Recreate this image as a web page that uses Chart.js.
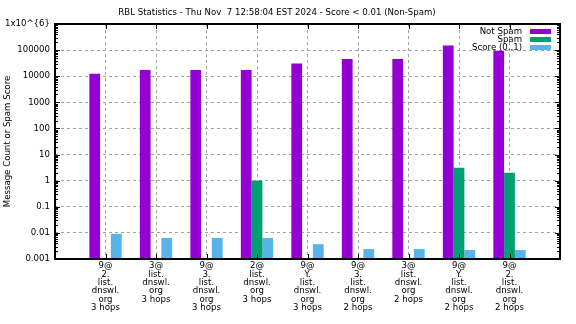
<!DOCTYPE html>
<html>
<head>
<meta charset="utf-8">
<script src="https://cdn.jsdelivr.net/npm/chart.js@4/dist/chart.umd.min.js"></script>
<style>
	html, body { margin:0; padding:0; background:#fff; }
	#wrap { width:576px; height:324px; }
</style>
</head>
<body>
<div id="wrap"><canvas id="chart" width="576" height="324"></canvas></div>
<script>

// data
var hosts = [
	['9@', '2.', 'list.', 'dnswl.', 'org', '3 hops'],
	['3@', 'list.', 'dnswl.', 'org', '3 hops'],
	['9@', '3.', 'list.', 'dnswl.', 'org', '3 hops'],
	['2@', 'list.', 'dnswl.', 'org', '3 hops'],
	['9@', 'Y.', 'list.', 'dnswl.', 'org', '3 hops'],
	['9@', '3.', 'list.', 'dnswl.', 'org', '2 hops'],
	['3@', 'list.', 'dnswl.', 'org', '2 hops'],
	['9@', 'Y.', 'list.', 'dnswl.', 'org', '2 hops'],
	['9@', '2.', 'list.', 'dnswl.', 'org', '2 hops']
];
var notSpam = [12300, 17500, 17500, 17500, 30500, 46000, 46000, 150000, 94000];
var spam = [null, null, null, 1, null, null, null, 3.1, 2.0];
var score = [0.0092, 0.0064, 0.0064, 0.0064, 0.0037, 0.0024, 0.0024, 0.0022, 0.0022];

var yTickValues = [0.001, 0.01, 0.1, 1, 10, 100, 1000, 10000, 100000, 1000000];
var yTickLabels = ['0.001', '0.01', '0.1', '1', '10', '100', '1000', '10000', '100000', '1x10^{6}'];

var seriesNames = ['Not Spam', 'Spam', 'Score (0..1)'];
var seriesColors = ['#9400d3', '#009e73', '#56b4e9'];

var titleText = 'RBL Statistics - Thu Nov  7 12:58:04 EST 2024 - Score < 0.01 (Non-Spam)';
var yTitleText = 'Message Count or Spam Score';

var FONT = '"DejaVu Sans"';
var FSIZE = 8.6;

// gnuplot puts an empty slot on each side of the xrange, pad with blanks
var pad = function(arr, v){
	return [v].concat(arr).concat([v]);
};

var labels = pad(hosts, '');

var decorations = {
	id: 'decorations',
	afterDraw: function(chart){
		var ctx = chart.ctx;
		var a = chart.chartArea;
		var y = chart.scales.y;
		var x = chart.scales.x;
		ctx.save();

		// title
		ctx.fillStyle = '#000';
		ctx.font = FSIZE + 'px ' + FONT;
		ctx.textAlign = 'center';
		ctx.textBaseline = 'middle';
		ctx.fillText(titleText, 277, 12.5);

		// y title
		ctx.save();
		ctx.translate(8, (a.top + a.bottom) / 2);
		ctx.rotate(-Math.PI / 2);
		ctx.fillText(yTitleText, 0, 0);
		ctx.restore();

		// tick marks on the border, inward
		ctx.strokeStyle = '#000';
		ctx.lineWidth = 1;
		ctx.beginPath();
		for (var k = 0; k < yTickValues.length; k++) {
			var py = Math.round(y.getPixelForValue(yTickValues[k])) + 0.5;
			ctx.moveTo(a.left, py); ctx.lineTo(a.left + 5, py);
			ctx.moveTo(a.right, py); ctx.lineTo(a.right - 5, py);
			if (k < yTickValues.length - 1) {
				for (var m = 2; m < 10; m++) {
					var pm = Math.round(y.getPixelForValue(yTickValues[k] * m)) + 0.5;
					ctx.moveTo(a.left, pm); ctx.lineTo(a.left + 3, pm);
					ctx.moveTo(a.right, pm); ctx.lineTo(a.right - 3, pm);
				}
			}
		}
		for (var i = 1; i <= hosts.length; i++) {
			var px = Math.round(x.getPixelForValue(i)) + 0.5;
			ctx.moveTo(px, a.bottom); ctx.lineTo(px, a.bottom - 5);
			ctx.moveTo(px, a.top); ctx.lineTo(px, a.top + 5);
		}
		ctx.stroke();

		// border
		ctx.lineWidth = 2;
		ctx.strokeRect(a.left, a.top, a.right - a.left, a.bottom - a.top);

		// key, top right inside the plot
		ctx.textAlign = 'right';
		ctx.textBaseline = 'middle';
		for (var s = 0; s < seriesNames.length; s++) {
			var ly = 31.5 + s * 8;
			ctx.fillStyle = '#000';
			ctx.fillText(seriesNames[s], 522, ly + 0.5);
			ctx.fillStyle = seriesColors[s];
			ctx.fillRect(530, ly - 2.5, 21, 5);
		}
		ctx.restore();
	}
};

var datasets = [];
var values = [notSpam, spam, score];
for (var s = 0; s < values.length; s++) {
	datasets.push({
		label: seriesNames[s],
		data: pad(values[s], null),
		backgroundColor: seriesColors[s],
		borderWidth: 0,
		categoryPercentage: 0.64,
		barPercentage: 1.0
	});
}

Chart.defaults.font.family = FONT;
Chart.defaults.font.size = FSIZE;
Chart.defaults.color = '#000';

var gridColor = function(n){
	return function(c){
		return (c.index === 0 || c.index === n - 1) ? 'rgba(0,0,0,0)' : '#a0a0a0';
	};
};

var chart = new Chart(document.getElementById('chart'), {
	type: 'bar',
	data: {
		labels: labels,
		datasets: datasets
	},
	options: {
		responsive: false,
		animation: false,
		layout: { padding: { top: 24, right: 16, left: 0, bottom: 0 } },
		plugins: {
			legend: { display: false },
			title: { display: false },
			tooltip: { enabled: false }
		},
		scales: {
			x: {
				offset: false,
				border: { display: false, dash: [3, 3] },
				grid: {
					offset: false,
					drawTicks: false,
					color: gridColor(labels.length),
					lineWidth: 1
				},
				ticks: {
					autoSkip: false,
					maxRotation: 0,
					padding: 3,
					font: { size: FSIZE, lineHeight: 0.97 }
				},
				afterFit: function(scale){ scale.height = 65; }
			},
			y: {
				type: 'logarithmic',
				min: 0.001,
				max: 1000000,
				border: { display: false, dash: [3, 3] },
				grid: {
					drawTicks: false,
					color: gridColor(yTickValues.length),
					lineWidth: 1
				},
				afterBuildTicks: function(scale){
					scale.ticks = yTickValues.map(function(v){ return { value: v, major: true }; });
				},
				ticks: {
					padding: 5,
					callback: function(value, index){ return yTickLabels[index]; }
				},
				afterFit: function(scale){ scale.width = 55; }
			}
		}
	},
	plugins: [decorations]
});
</script>
</body>
</html>
